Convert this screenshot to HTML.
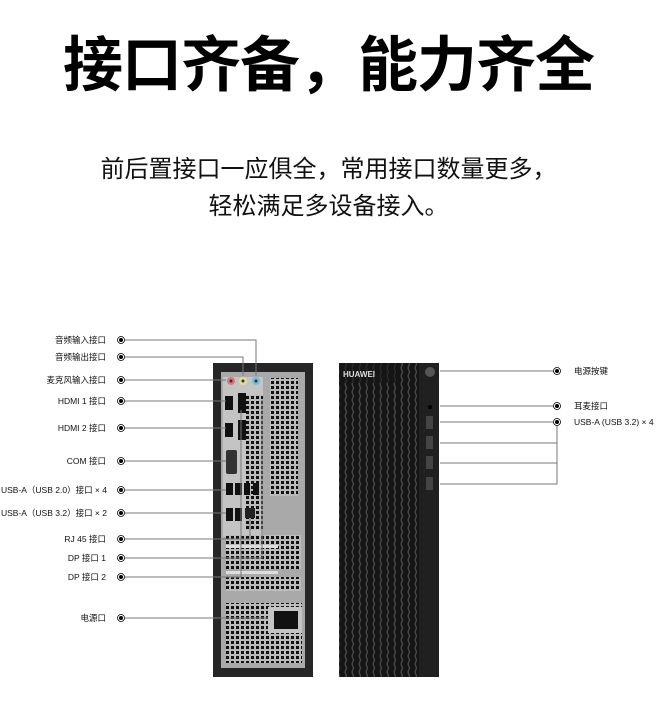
<!DOCTYPE html>
<html><head><meta charset="utf-8"><style>
html,body{margin:0;padding:0;background:#fff;width:657px;height:714px;overflow:hidden;position:relative;font-family:"Liberation Sans","Noto Sans CJK SC",sans-serif;}
.t{position:absolute;left:0;width:657px;text-align:center;color:#000;white-space:nowrap;}
</style></head><body>
<div class="t" style="top:28px;font-size:60px;font-weight:bold;line-height:76px;letter-spacing:-1px;">接口齐备，能力齐全</div>
<div class="t" style="top:155px;font-size:24px;line-height:30px;color:#111;">前后置接口一应俱全，常用接口数量更多，</div>
<div class="t" style="top:192px;font-size:24px;line-height:30px;color:#111;">轻松满足多设备接入。</div>
<svg width="657" height="714" style="position:absolute;left:0;top:0" xmlns="http://www.w3.org/2000/svg" font-family="Liberation Sans,Noto Sans CJK SC,sans-serif">
<defs>
<pattern id="g" width="5" height="5" patternUnits="userSpaceOnUse"><rect width="5" height="5" fill="#bbb"/><rect x="1" y="1" width="3" height="3" fill="#111"/></pattern>
<pattern id="v" width="7" height="8" patternUnits="userSpaceOnUse"><rect width="7" height="8" fill="#151515"/><path d="M2 0 L3.5 4 L2 8" stroke="#4a4a4a" stroke-width="1.3" fill="none"/></pattern>
</defs>
<!-- back case -->
<rect x="213" y="363" width="100" height="314" fill="#262626"/>
<rect x="221" y="372" width="84" height="296" fill="#a9a9a9"/>
<rect x="223" y="377" width="40" height="160" fill="#c4c4c4"/>
<rect x="246" y="395" width="17" height="135" fill="url(#g)"/>
<rect x="270" y="378" width="28" height="118" fill="url(#g)"/>
<circle cx="231" cy="381" r="4" fill="#d77"/><circle cx="231" cy="381" r="1.5" fill="#333"/>
<circle cx="243" cy="381" r="4" fill="#dd9"/><circle cx="243" cy="381" r="1.5" fill="#333"/>
<circle cx="256" cy="381" r="4" fill="#7bd"/><circle cx="256" cy="381" r="1.5" fill="#333"/>
<rect x="225" y="396" width="8" height="14" fill="#111"/><rect x="238" y="393" width="8" height="20" fill="#111"/>
<rect x="225" y="423" width="8" height="14" fill="#111"/><rect x="238" y="420" width="8" height="20" fill="#111"/>
<rect x="226" y="450" width="11" height="24" rx="2" fill="#333"/>
<rect x="226" y="483" width="7" height="12" fill="#111"/><rect x="235" y="483" width="7" height="12" fill="#111"/><rect x="244" y="483" width="6" height="12" fill="#111"/><rect x="253" y="483" width="6" height="12" fill="#111"/>
<rect x="226" y="508" width="7" height="13" fill="#111"/><rect x="235" y="508" width="7" height="13" fill="#111"/><rect x="245" y="508" width="10" height="10" fill="#222"/>
<rect x="226" y="535" width="75" height="34" fill="url(#g)"/>
<rect x="226" y="545" width="52" height="3" fill="#ddd"/><rect x="226" y="571" width="52" height="3" fill="#ddd"/>
<rect x="226" y="577" width="75" height="14" fill="url(#g)"/>
<rect x="226" y="603" width="76" height="60" fill="url(#g)"/>
<rect x="268" y="607" width="34" height="26" fill="#c4c4c4"/><rect x="274" y="611" width="24" height="18" fill="#111"/>
<!-- front case -->
<rect x="339" y="363" width="80" height="314" fill="url(#v)"/>
<rect x="419" y="363" width="20" height="314" fill="#202020"/>
<rect x="339" y="363" width="60" height="20" fill="#151515" opacity="0.6"/>
<text x="343" y="377" font-size="8" fill="#ddd" font-weight="bold">HUAWEI</text>
<circle cx="430" cy="372" r="5" fill="#555"/><circle cx="430" cy="407" r="2" fill="#000"/>
<rect x="426" y="416" width="7" height="13" fill="#444"/><rect x="426" y="436" width="7" height="13" fill="#444"/><rect x="426" y="456" width="7" height="13" fill="#444"/><rect x="426" y="477" width="7" height="13" fill="#444"/>
<!-- connectors -->
<g stroke="#777" stroke-width="1" fill="none">
<polyline points="125,340 256,340 256,376"/>
<polyline points="125,357 243,357 243,376"/>
<polyline points="125,380 226,380"/>
<polyline points="125,401 226,401"/>
<polyline points="125,428 226,428"/>
<polyline points="125,461 226,461"/>
<polyline points="125,490 226,490"/>
<polyline points="125,513 226,513"/>
<polyline points="125,539 250,539 250,518"/>
<polyline points="125,558 262,558 262,400"/>
<polyline points="125,577 241,577 241,410"/>
<polyline points="125,618 268,618"/>
<polyline points="440,371 553,371"/>
<polyline points="440,406 553,406"/>
<polyline points="440,422 553,422"/>
<polyline points="440,443 557,443"/>
<polyline points="440,463 557,463"/>
<polyline points="440,484 557,484 557,426"/>
</g>
<g fill="#000" stroke="#000">
<g fill="none" stroke-width="0.8"><circle cx="121" cy="340" r="3.5"/><circle cx="121" cy="357" r="3.5"/><circle cx="121" cy="380" r="3.5"/><circle cx="121" cy="401" r="3.5"/><circle cx="121" cy="428" r="3.5"/><circle cx="121" cy="461" r="3.5"/><circle cx="121" cy="490" r="3.5"/><circle cx="121" cy="513" r="3.5"/><circle cx="121" cy="539" r="3.5"/><circle cx="121" cy="558" r="3.5"/><circle cx="121" cy="577" r="3.5"/><circle cx="121" cy="618" r="3.5"/><circle cx="557" cy="371" r="3.5"/><circle cx="557" cy="406" r="3.5"/><circle cx="557" cy="422" r="3.5"/></g>
<g stroke="none"><circle cx="121" cy="340" r="2"/><circle cx="121" cy="357" r="2"/><circle cx="121" cy="380" r="2"/><circle cx="121" cy="401" r="2"/><circle cx="121" cy="428" r="2"/><circle cx="121" cy="461" r="2"/><circle cx="121" cy="490" r="2"/><circle cx="121" cy="513" r="2"/><circle cx="121" cy="539" r="2"/><circle cx="121" cy="558" r="2"/><circle cx="121" cy="577" r="2"/><circle cx="121" cy="618" r="2"/><circle cx="557" cy="371" r="2"/><circle cx="557" cy="406" r="2"/><circle cx="557" cy="422" r="2"/></g>
</g>
<g font-size="8.5" fill="#111" text-anchor="end">
<text x="106" y="343">音频输入接口</text>
<text x="106" y="360">音频输出接口</text>
<text x="106" y="383">麦克风输入接口</text>
<text x="106" y="404">HDMI 1 接口</text>
<text x="106" y="431">HDMI 2 接口</text>
<text x="106" y="464">COM 接口</text>
<text x="107" y="493">USB-A（USB 2.0）接口 × 4</text>
<text x="107" y="516">USB-A（USB 3.2）接口 × 2</text>
<text x="106" y="542">RJ 45 接口</text>
<text x="106" y="561">DP 接口 1</text>
<text x="106" y="580">DP 接口 2</text>
<text x="106" y="621">电源口</text>
</g>
<g font-size="8.5" fill="#111">
<text x="574" y="374">电源按键</text>
<text x="574" y="409">耳麦接口</text>
<text x="574" y="425">USB-A (USB 3.2) × 4</text>
</g>
</svg>
</body></html>
